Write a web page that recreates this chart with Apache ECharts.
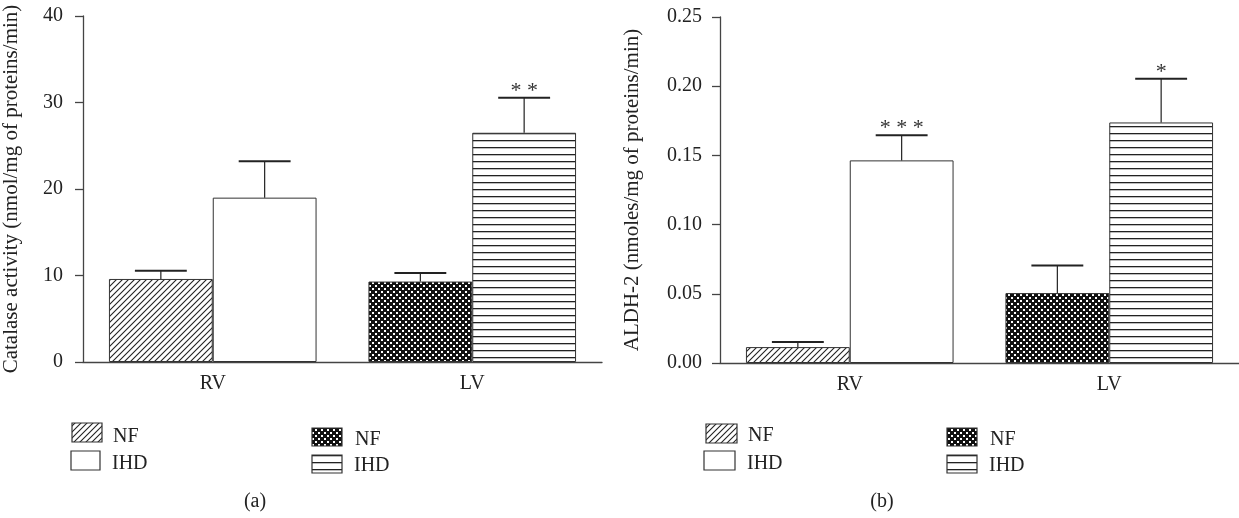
<!DOCTYPE html>
<html><head><meta charset="utf-8">
<script src="https://cdn.jsdelivr.net/npm/echarts@6/dist/echarts.min.js"></script>
<style>html,body{margin:0;padding:0;background:#fff;}#c{width:1239px;height:518px;}</style>
</head><body><div id="c"></div>
<script>
// ---- data ----
const categories = ['RV', 'LV'];
const catalaseNF = [9.6, 9.3];
const catalaseNFErr = [0.95, 1.0];
const catalaseIHD = [19.0, 26.5];
const catalaseIHDErr = [4.2, 4.05];
const catalaseSigNF = ['', ''];
const catalaseSigIHD = ['', '* *'];
const aldhNF = [0.0115, 0.0505];
const aldhNFErr = [0.0036, 0.0199];
const aldhIHD = [0.1464, 0.1738];
const aldhIHDErr = [0.0182, 0.0315];
const aldhSigNF = ['', ''];
const aldhSigIHD = ['* * *', '*'];
const yTicksA = {min: 0, max: 40, interval: 10};
const yTicksB = {min: 0, max: 0.25, interval: 0.05};

const FONT = '"Liberation Serif", "DejaVu Serif", serif';
const TXT = '#222';

// ---- patterns ----
function hatch() {
  const c = document.createElement('canvas'); c.width = 6; c.height = 6;
  const g = c.getContext('2d'); g.fillStyle = '#fff'; g.fillRect(0,0,6,6);
  g.strokeStyle = '#222'; g.lineWidth = 1.1;
  g.beginPath();
  g.moveTo(0,6); g.lineTo(6,0);
  g.moveTo(-1,1); g.lineTo(1,-1);
  g.moveTo(5,7); g.lineTo(7,5);
  g.stroke();
  return {image: c, repeat: 'repeat'};
}
function checker() {
  const c = document.createElement('canvas'); c.width = 6; c.height = 6;
  const g = c.getContext('2d'); g.fillStyle = '#111'; g.fillRect(0,0,6,6);
  g.fillStyle = '#fff'; g.fillRect(0,0,2,2); g.fillRect(3,3,2,2);
  return {image: c, repeat: 'repeat'};
}
function hlines() {
  const c = document.createElement('canvas'); c.width = 4; c.height = 7;
  const g = c.getContext('2d'); g.fillStyle = '#fff'; g.fillRect(0,0,4,7);
  g.fillStyle = '#222'; g.fillRect(0,0,4,1.3);
  return {image: c, repeat: 'repeat'};
}
const P_HATCH = hatch(), P_CHECK = checker(), P_HL = hlines();
const nfFill = [P_HATCH, P_CHECK];
const ihdFill = ['#fff', P_HL];

function barData(vals, fills) {
  return vals.map((v, i) => ({value: v, itemStyle: {color: fills[i]}}));
}
function errData(vals, errs) {
  return vals.map((v, i) => [i, v, errs[i]]);
}
const errCache = {};
function errRender(offset) {
  return function (params, api) {
    const idx = api.value(0), v = api.value(1), e = api.value(2);
    const sig = errCache[params.seriesIndex][params.dataIndex];
    const base = api.coord([idx, v]);
    const top = api.coord([idx, v + e]);
    const band = api.size([1, 0])[0];
    const cx = base[0] + offset * band;
    const half = band * 0.1;
    const ch = [
      {type: 'line', shape: {x1: cx, y1: base[1], x2: cx, y2: top[1]}, style: {stroke: '#222', lineWidth: 1.2}},
      {type: 'line', shape: {x1: cx - half, y1: top[1], x2: cx + half, y2: top[1]}, style: {stroke: '#222', lineWidth: 2}}
    ];
    if (sig) ch.push({type: 'text', style: {text: sig, x: cx, y: top[1] - 7, align: 'center', verticalAlign: 'middle', font: '22px ' + FONT, fill: '#333'}});
    return {type: 'group', children: ch};
  };
}

const axisLine = {show: true, lineStyle: {color: '#444', width: 1.3}};
function yAxis(grid, ticks, name, gap, margin, fmt) {
  return {type: 'value', gridIndex: grid, min: ticks.min, max: ticks.max, interval: ticks.interval,
    name: name, nameLocation: 'middle', nameGap: gap,
    nameTextStyle: {fontFamily: FONT, fontSize: 21, color: TXT},
    axisLine: axisLine, axisTick: {show: true, length: 8, lineStyle: {color: '#444', width: 1.3}},
    splitLine: {show: false},
    axisLabel: {fontFamily: FONT, fontSize: 20, color: TXT, margin: margin, formatter: fmt}};
}
function xAxis(grid) {
  return {type: 'category', gridIndex: grid, data: categories,
    axisLine: axisLine, axisTick: {show: false},
    axisLabel: {fontFamily: FONT, fontSize: 20, color: TXT, margin: 12}};
}

const series = [];
function addChart(grid, nf, nfE, nfS, ihd, ihdE, ihdS) {
  const bs = {type: 'bar', xAxisIndex: grid, yAxisIndex: grid, barWidth: '40%', barGap: '0%',
    itemStyle: {borderColor: '#333', borderWidth: 1}, silent: true, animation: false};
  series.push(Object.assign({}, bs, {name: 'NF', data: barData(nf, nfFill)}));
  series.push(Object.assign({}, bs, {name: 'IHD', data: barData(ihd, ihdFill)}));
  errCache[series.length] = nfS;
  series.push({type: 'custom', xAxisIndex: grid, yAxisIndex: grid, renderItem: errRender(-0.2),
    data: errData(nf, nfE), encode: {x: 0, y: 1}, z: 5, silent: true, animation: false});
  errCache[series.length] = ihdS;
  series.push({type: 'custom', xAxisIndex: grid, yAxisIndex: grid, renderItem: errRender(0.2),
    data: errData(ihd, ihdE), encode: {x: 0, y: 1}, z: 5, silent: true, animation: false});
}
addChart(0, catalaseNF, catalaseNFErr, catalaseSigNF, catalaseIHD, catalaseIHDErr, catalaseSigIHD);
addChart(1, aldhNF, aldhNFErr, aldhSigNF, aldhIHD, aldhIHDErr, aldhSigIHD);

// ---- legends as graphics ----
function legendBox(x, y, w, h, fill) {
  return {type: 'rect', shape: {x: x, y: y, width: w, height: h}, style: {fill: fill, stroke: '#333', lineWidth: 1.2}};
}
function legendText(x, y, t) {
  return {type: 'text', style: {text: t, x: x, y: y, verticalAlign: 'middle', font: '20px ' + FONT, fill: TXT}};
}
const graphics = [
  legendBox(72, 423, 30, 19, P_HATCH), legendText(113, 437, 'NF'),
  legendBox(71, 451, 29, 19, '#fff'), legendText(112, 464, 'IHD'),
  legendBox(312, 428, 30, 18, P_CHECK), legendText(355, 440, 'NF'),
  legendBox(312, 455, 30, 18, P_HL), legendText(354, 466, 'IHD'),
  legendBox(706, 424, 31, 19, P_HATCH), legendText(748, 436, 'NF'),
  legendBox(704, 451, 31, 19, '#fff'), legendText(747, 464, 'IHD'),
  legendBox(947, 428, 30, 18, P_CHECK), legendText(990, 440, 'NF'),
  legendBox(947, 455, 30, 18, P_HL), legendText(989, 466, 'IHD'),
  {type: 'text', style: {text: '(a)', x: 255, y: 502, align: 'center', verticalAlign: 'middle', font: '20px ' + FONT, fill: TXT}},
  {type: 'text', style: {text: '(b)', x: 882, y: 502, align: 'center', verticalAlign: 'middle', font: '20px ' + FONT, fill: TXT}}
];

const chart = echarts.init(document.getElementById('c'), null, {renderer: 'canvas'});
chart.setOption({
  backgroundColor: '#fff',
  animation: false,
  grid: [
    {left: 83, right: 637, top: 16, bottom: 156},
    {left: 720, right: 0, top: 17, bottom: 155}
  ],
  xAxis: [xAxis(0), xAxis(1)],
  yAxis: [
    yAxis(0, yTicksA, 'Catalase activity (nmol/mg of proteins/min)', 61, 20, v => String(v)),
    yAxis(1, yTicksB, 'ALDH-2 (nmoles/mg of proteins/min)', 77, 18, v => v.toFixed(2))
  ],
  series: series,
  graphic: graphics
});
</script></body></html>
